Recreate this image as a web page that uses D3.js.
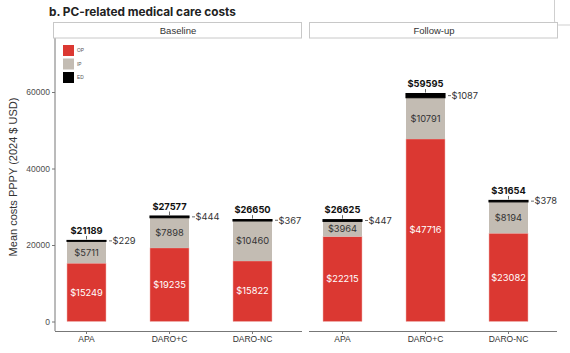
<!DOCTYPE html>
<html>
<head>
<meta charset="utf-8">
<script src="https://cdn.jsdelivr.net/npm/d3@7"></script>
<style>
  body { margin: 0; background: #fff; }
  svg { display: block; }
</style>
</head>
<body>
<div id="chart"></div>
<script>
// data
const periods = ['Baseline', 'Follow-up']
const drugs = ['APA', 'DARO+C', 'DARO-NC']
const opCost = [[15249, 19235, 15822], [22215, 47716, 23082]]
const ipCost = [[5711, 7898, 10460], [3964, 10791, 8194]]
const edCost = [[229, 444, 367], [447, 1087, 378]]
const totals = [[21189, 27577, 26650], [26625, 59595, 31654]]
const yTicks = [0, 20000, 40000, 60000]
const legendKeys = ['OP', 'IP', 'ED']

const width = 570, height = 353
const colors = { OP: '#db3832', IP: '#c3bcb3', ED: '#000000' }
const labelFont = 'Inter, "Liberation Sans", sans-serif'
const axisFont = '"Liberation Sans", Arial, sans-serif'

const svg = d3.select('#chart').append('svg')
  .attr('width', width).attr('height', height)

// title
svg.append('text')
  .attr('x', 49).attr('y', 15.5)
  .attr('font-family', labelFont)
  .attr('font-weight', 'bold')
  .attr('font-size', 11.8)
  .attr('fill', '#222')
  .text('b. PC-related medical care costs')

// fragment of neighbouring box, top right
svg.append('path')
  .attr('d', 'M554.5,0 V21 Q554.5,25 558.5,25 H570')
  .attr('fill', 'none').attr('stroke', '#cfcfcf')

const yScale = d3.scaleLinear().domain([0, 60000]).range([321.5, 92])
const panelX = [54, 310]
const axisY = 331

// y axis (left panel only)
const gY = svg.append('g').attr('transform', 'translate(55,0)')
gY.call(d3.axisLeft(yScale).tickValues(yTicks).tickSize(3).tickPadding(2).tickFormat(d => d))
gY.select('.domain').remove()
gY.selectAll('.tick line').attr('stroke', '#777')
gY.selectAll('.tick text').attr('font-family', axisFont).attr('font-size', 8.5).attr('fill', '#4d4d4d')
svg.append('line')
  .attr('x1', 55).attr('x2', 55).attr('y1', 38).attr('y2', axisY)
  .attr('stroke', '#777').attr('stroke-width', 1)

svg.append('text')
  .attr('transform', 'translate(17,177) rotate(-90)')
  .attr('text-anchor', 'middle')
  .attr('font-family', axisFont)
  .attr('font-size', 11)
  .attr('fill', '#333')
  .text('Mean costs PPPY (2024 $ USD)')

periods.forEach((period, p) => {
  const x0 = panelX[p]
  const xScale = d3.scaleBand()
    .domain(drugs)
    .range([x0 - 9, x0 + 240])
    .paddingInner(0.53)
    .paddingOuter(0.265)

  // strip
  const stripX = p === 0 ? 53 : 309
  svg.append('rect')
    .attr('x', stripX + 0.5).attr('y', 22.5)
    .attr('width', 248).attr('height', 15.5)
    .attr('fill', '#fff').attr('stroke', '#c8c8c8')
  svg.append('text')
    .attr('x', stripX + 125).attr('y', 33.5)
    .attr('text-anchor', 'middle')
    .attr('font-family', axisFont)
    .attr('font-size', 9.5)
    .attr('fill', '#333')
    .text(period)

  // x axis
  const gX = svg.append('g').attr('transform', `translate(0,${axisY})`)
  gX.call(d3.axisBottom(xScale).tickSize(3).tickPadding(2).tickSizeOuter(0))
  gX.select('.domain')
    .attr('d', `M${p === 0 ? 55 : 309},0.5H${p === 0 ? 302 : 557}`)
    .attr('stroke', '#777')
  gX.selectAll('.tick line').attr('stroke', '#777')
  gX.selectAll('.tick text').attr('font-family', axisFont).attr('font-size', 8.5).attr('fill', '#333')

  const g = svg.append('g')
  drugs.forEach((drug, i) => {
    const bx = xScale(drug)
    const bw = xScale.bandwidth()
    const cx = bx + bw / 2
    const op = opCost[p][i], ip = ipCost[p][i], ed = edCost[p][i]
    const stackTop = op + ip + ed

    g.append('rect')
      .attr('x', bx).attr('width', bw)
      .attr('y', yScale(op)).attr('height', yScale(0) - yScale(op))
      .attr('fill', colors.OP).attr('stroke', '#f2b9b5').attr('stroke-width', 0.5)
    g.append('rect')
      .attr('x', bx).attr('width', bw)
      .attr('y', yScale(op + ip)).attr('height', yScale(op) - yScale(op + ip))
      .attr('fill', colors.IP)
    g.append('rect')
      .attr('x', bx).attr('width', bw)
      .attr('y', yScale(stackTop)).attr('height', yScale(op + ip) - yScale(stackTop))
      .attr('fill', colors.ED).attr('stroke', colors.ED).attr('stroke-width', 1.1)

    // segment labels
    g.append('text')
      .attr('x', cx).attr('y', yScale(op / 2)).attr('dy', '0.35em')
      .attr('text-anchor', 'middle')
      .attr('font-family', labelFont).attr('font-size', 9.3)
      .attr('fill', '#fff')
      .text('$' + op)
    g.append('text')
      .attr('x', cx).attr('y', yScale(op + ip / 2)).attr('dy', '0.35em')
      .attr('text-anchor', 'middle')
      .attr('font-family', labelFont).attr('font-size', 9.3)
      .attr('fill', '#333')
      .text('$' + ip)

    // ED label to the right
    const edY = yScale(op + ip + ed / 2)
    g.append('line')
      .attr('x1', bx + bw + 3).attr('x2', bx + bw + 6)
      .attr('y1', edY).attr('y2', edY)
      .attr('stroke', '#444').attr('stroke-width', 0.8)
    g.append('text')
      .attr('x', bx + bw + 6.5).attr('y', edY).attr('dy', '0.35em')
      .attr('font-family', labelFont).attr('font-size', 9.3)
      .attr('fill', '#333')
      .text('$' + ed)

    // total label above
    const topY = yScale(stackTop)
    g.append('line')
      .attr('x1', cx).attr('x2', cx)
      .attr('y1', topY - 1).attr('y2', topY - 4.5)
      .attr('stroke', '#444').attr('stroke-width', 0.8)
    g.append('text')
      .attr('x', cx).attr('y', topY - 6.5)
      .attr('text-anchor', 'middle')
      .attr('font-family', labelFont).attr('font-size', 9.3)
      .attr('font-weight', 'bold')
      .attr('fill', '#111')
      .text('$' + totals[p][i])
  })
})

// legend in left panel
const gLegend = svg.append('g').attr('transform', 'translate(63,45)')
legendKeys.forEach((key, i) => {
  gLegend.append('rect')
    .attr('x', 0).attr('y', i * 13.5)
    .attr('width', 11).attr('height', 11)
    .attr('fill', colors[key])
  gLegend.append('text')
    .attr('x', 14).attr('y', i * 13.5 + 5.5).attr('dy', '0.35em')
    .attr('font-family', axisFont).attr('font-size', 4.8)
    .attr('fill', '#555')
    .text(key)
})
</script>
</body>
</html>
